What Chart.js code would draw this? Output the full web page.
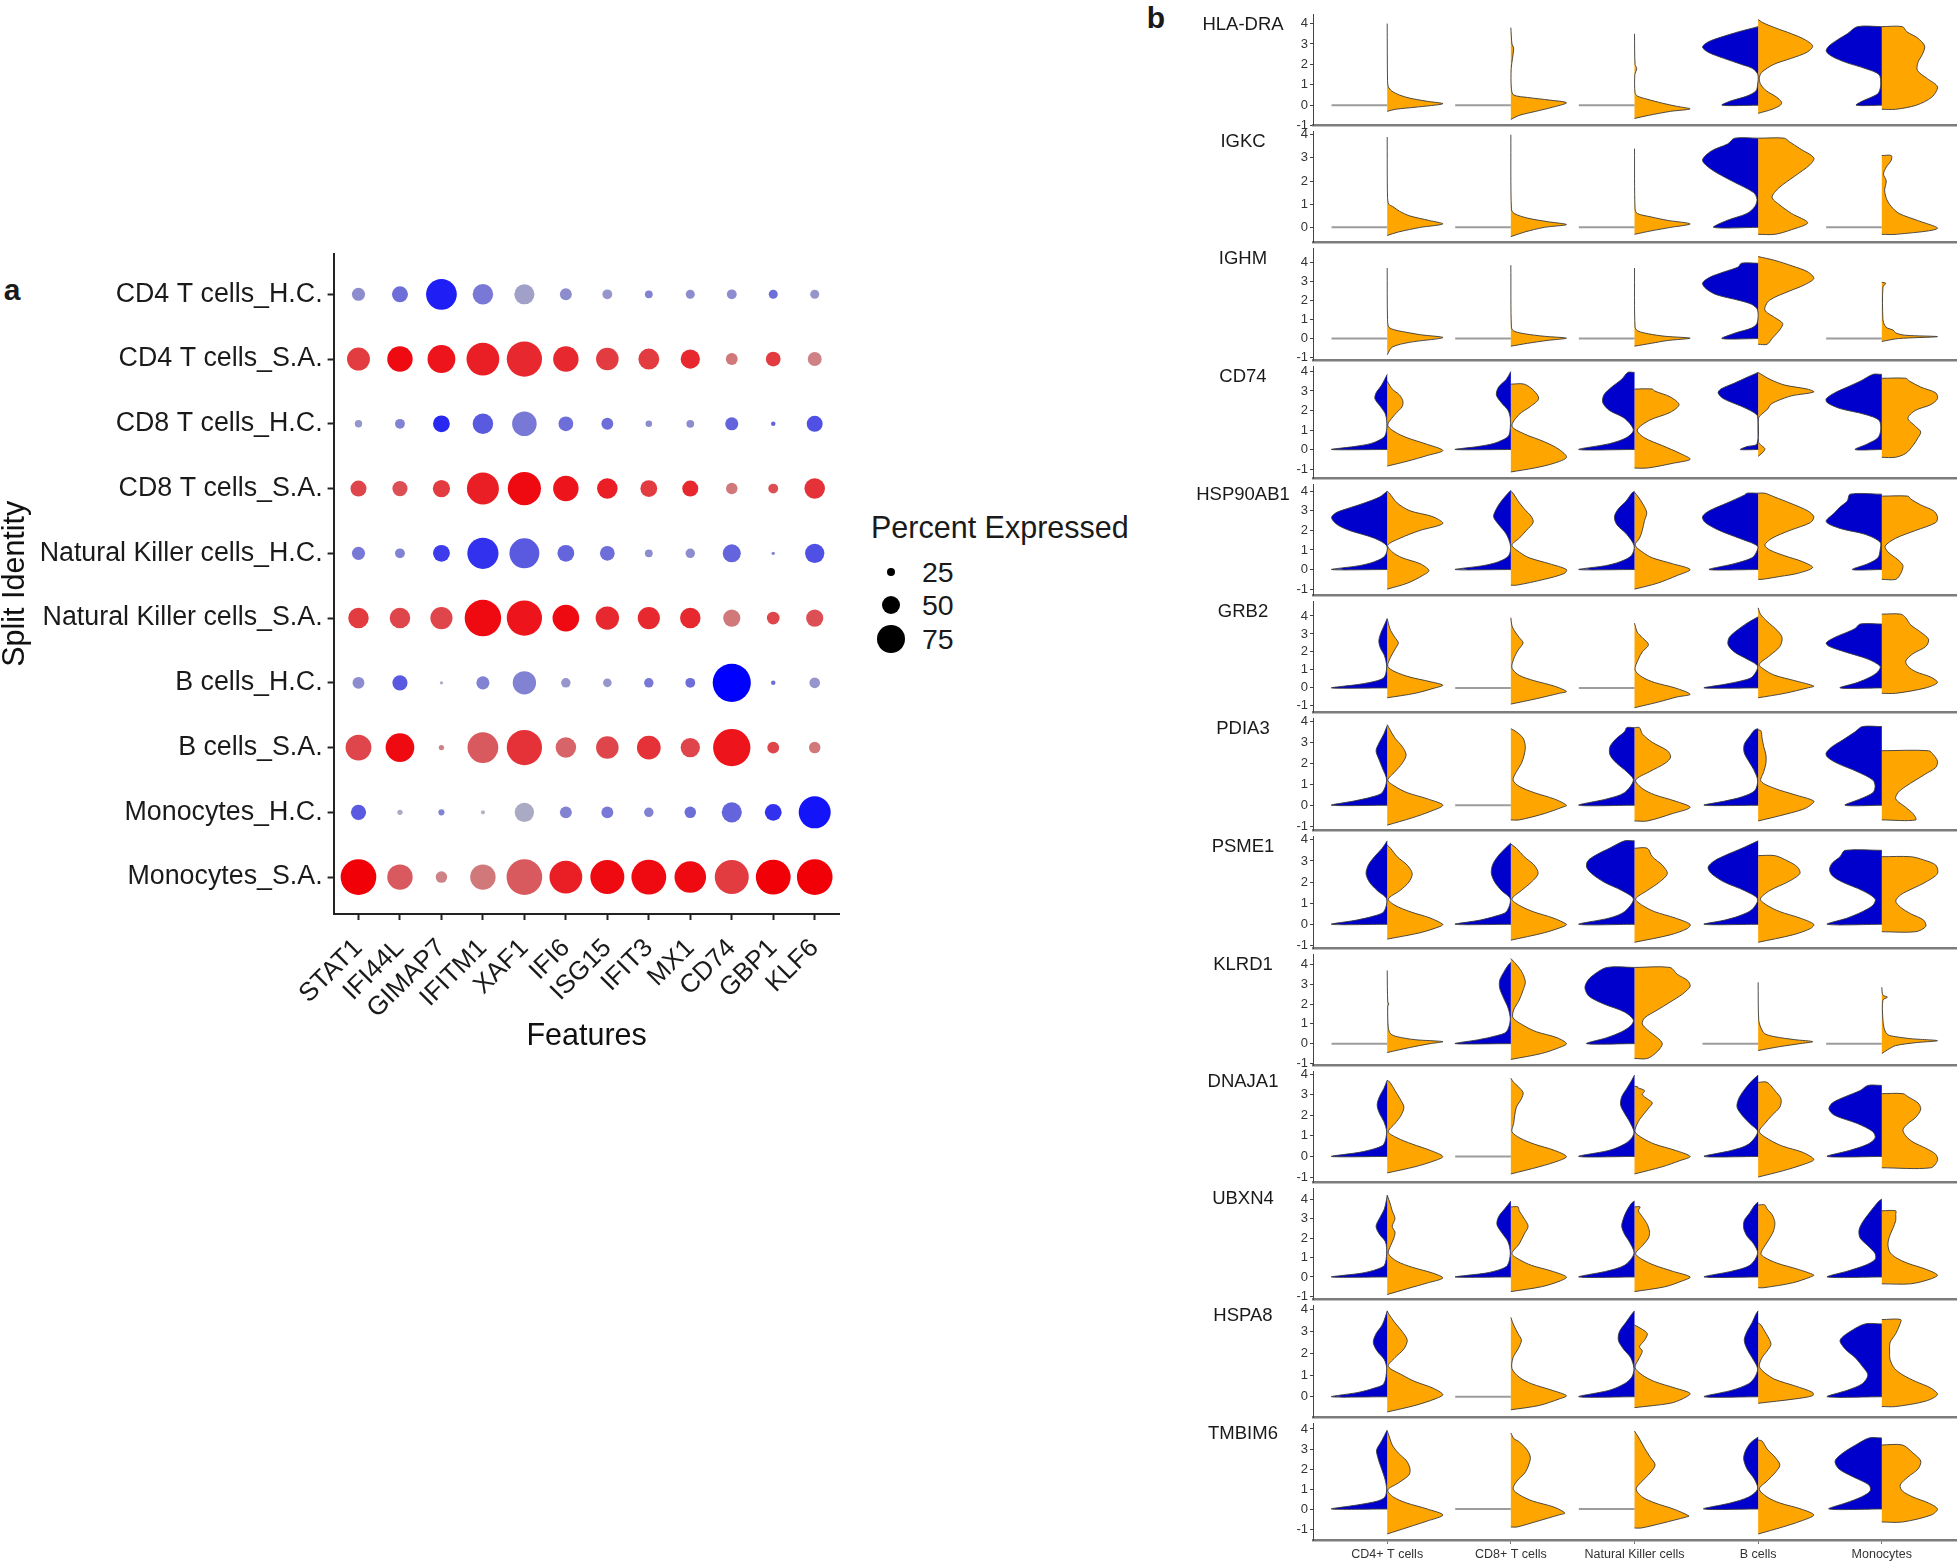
<!DOCTYPE html>
<html><head><meta charset="utf-8">
<script src="https://cdn.jsdelivr.net/npm/chart.js@4.4.1/dist/chart.umd.min.js"></script>
<style>
html,body{margin:0;padding:0;background:#fff;}
#fig{position:relative;width:1959px;height:1566px;overflow:hidden;font-family:"Liberation Sans",Arial,sans-serif;color:#1a1a1a;background:#fff;}
canvas{position:absolute;}
.t{position:absolute;white-space:nowrap;line-height:1;}
.gene{position:absolute;font-size:18.5px;transform:translate(-50%,-50%);white-space:nowrap;color:#1a1a1a;line-height:1;}
.dot{position:absolute;background:#000;border-radius:50%;}
</style></head><body><div id="fig"></div>
<script>
// ---------------- Panel a data ----------------
const features = ['STAT1','IFI44L','GIMAP7','IFITM1','XAF1','IFI6','ISG15','IFIT3','MX1','CD74','GBP1','KLF6'];
const identities = ['CD4 T cells_H.C.','CD4 T cells_S.A.','CD8 T cells_H.C.','CD8 T cells_S.A.',
  'Natural Killer cells_H.C.','Natural Killer cells_S.A.','B cells_H.C.','B cells_S.A.','Monocytes_H.C.','Monocytes_S.A.'];
const pctExpressed = [
  [38,45,81,56,55,35,30,25,28,30,28,28],
  [62,68,74,86,92,68,61,57,53,35,42,40],
  [24,30,47,56,66,42,35,22,25,38,17,45],
  [45,43,48,84,87,68,56,47,45,34,30,56],
  [38,30,47,82,79,47,42,25,29,50,14,53],
  [56,56,60,95,92,71,63,60,56,48,37,48],
  [35,43,14,38,63,29,27,29,30,99,17,32],
  [69,76,19,81,92,56,61,64,53,97,35,34],
  [43,19,21,16,53,35,35,29,34,55,47,84],
  [93,68,34,68,93,86,89,91,83,89,91,93]
];
// scaled average expression, as colour level 1..20 (grey -> split colour)
const expLevel = [
  [6,9,17,8,4,6,5,7,6,6,9,5],
  [14,19,18,17,16,16,14,14,16,8,14,7],
  [5,7,16,11,8,9,9,6,6,10,10,12],
  [13,12,14,17,19,18,17,14,16,8,12,15],
  [8,7,14,15,11,10,9,6,6,10,7,12],
  [14,13,13,19,18,19,16,16,16,8,13,12],
  [6,11,3,7,7,5,5,8,9,20,9,5],
  [13,19,7,11,15,10,13,15,13,18,13,8],
  [11,3,7,2,3,7,8,7,9,10,15,18],
  [20,11,7,8,11,17,19,19,19,14,20,20]
];
const legendPct = [25,50,75];

// ---------------- Panel b data ----------------
const cellTypes = ['CD4+ T cells','CD8+ T cells','Natural Killer cells','B cells','Monocytes'];
const genes = ['HLA-DRA','IGKC','IGHM','CD74','HSP90AB1','GRB2','PDIA3','PSME1','KLRD1','DNAJA1','UBXN4','HSPA8','TMBIM6'];
const geneYMin = [-0.98,-0.64,-1.135,-1.47,-1.31,-1.35,-1.19,-1.13,-1.09,-1.25,-1.14,-0.94,-1.55];
const geneYMax = [4.47,4.16,4.75,4.28,4.37,4.83,4.16,4.18,4.53,4.15,4.57,4.22,4.3];
// each cell: [H.C. half (blue), S.A. half (orange)]; half = [[expression, relative width], ...]; null = all zero
const vHLA_DRA = [
 [null,[[-0.3,0],[-0.2,0.15],[-0.1,0.5],[0.07,1],[0.2,0.7],[0.35,0.4],[0.5,0.22],[0.7,0.08],[0.9,0.02],[1.2,0.006],[4.0,0]]],
 [null,[[-0.7,0],[-0.5,0.15],[-0.3,0.45],[-0.1,0.75],[0.12,1],[0.25,0.7],[0.38,0.3],[0.5,0.05],[0.8,0.01],[1.8,0.006],[2.3,0.03],[2.8,0.05],[3.0,0.02],[3.8,0]]],
 [null,[[-0.65,0],[-0.5,0.25],[-0.3,0.65],[-0.18,1],[-0.05,0.75],[0.1,0.5],[0.3,0.22],[0.45,0.05],[0.6,0.01],[1.5,0.006],[1.8,0.04],[2.0,0.01],[3.5,0]]],
 [[[0,0.65],[0.2,0.5],[0.45,0.2],[0.7,0.04],[1.0,0.01],[1.5,0.005],[1.8,0.1],[2.0,0.3],[2.3,0.62],[2.6,0.9],[2.85,1],[3.1,0.9],[3.35,0.65],[3.6,0.35],[3.85,0]],
  [[-0.4,0],[-0.2,0.25],[0,0.4],[0.15,0.42],[0.4,0.33],[0.7,0.15],[1.0,0.05],[1.3,0.02],[1.6,0.06],[2.0,0.28],[2.3,0.6],[2.6,0.88],[2.9,0.98],[3.2,0.85],[3.5,0.6],[3.8,0.3],[4.05,0.08],[4.2,0]]],
 [[[0,0.46],[0.2,0.35],[0.4,0.18],[0.6,0.06],[1.0,0.02],[1.5,0.05],[1.8,0.3],[2.1,0.65],[2.4,0.9],[2.65,1],[2.9,0.95],[3.2,0.8],[3.5,0.62],[3.85,0.44]],
  [[-0.2,0.25],[0,0.62],[0.4,0.9],[0.9,1],[1.3,0.82],[1.7,0.64],[2.1,0.65],[2.5,0.73],[2.9,0.77],[3.3,0.64],[3.6,0.45],[3.85,0.37]]]
];
const vIGKC = [
 [null,[[-0.35,0],[-0.2,0.2],[0,0.6],[0.15,1],[0.3,0.75],[0.5,0.4],[0.7,0.22],[0.9,0.1],[1.0,0.03],[1.3,0.006],[3.9,0]]],
 [null,[[-0.4,0],[-0.2,0.25],[0,0.6],[0.12,1],[0.25,0.65],[0.4,0.3],[0.6,0.06],[0.8,0.01],[4.0,0]]],
 [null,[[-0.3,0],[-0.15,0.3],[0,0.65],[0.15,1],[0.3,0.6],[0.45,0.3],[0.6,0.05],[0.8,0.01],[3.4,0]]],
 [[[0,0.8],[0.3,0.56],[0.6,0.2],[0.9,0.06],[1.2,0.02],[1.5,0.08],[2.0,0.47],[2.5,0.84],[2.9,1],[3.3,0.84],[3.6,0.55],[3.85,0.42]],
  [[-0.3,0.3],[-0.1,0.6],[0.2,0.89],[0.6,0.6],[1.0,0.37],[1.3,0.25],[1.7,0.37],[2.2,0.65],[2.7,0.93],[3.0,1],[3.4,0.75],[3.7,0.56],[3.85,0.47]]],
 [null,[[-0.3,0.26],[-0.05,1],[0.3,0.64],[0.6,0.31],[0.9,0.17],[1.2,0.09],[1.6,0.05],[2.0,0.08],[2.3,0.03],[2.6,0.08],[2.9,0.17],[3.1,0.17]]]
];
const vIGHM = [
 [null,[[-0.85,0],[-0.45,0.09],[-0.2,0.4],[0.05,1],[0.2,0.6],[0.3,0.4],[0.45,0.14],[0.6,0.03],[1.0,0.006],[3.7,0]]],
 [null,[[-0.4,0],[-0.25,0.3],[-0.1,0.65],[0.02,1],[0.12,0.6],[0.25,0.25],[0.4,0.05],[0.6,0.01],[3.85,0]]],
 [null,[[-0.4,0],[-0.25,0.3],[-0.1,0.6],[0.02,1],[0.12,0.55],[0.25,0.25],[0.4,0.06],[0.6,0.01],[3.7,0]]],
 [[[0,0.65],[0.3,0.4],[0.55,0.12],[0.8,0.02],[1.5,0.01],[1.8,0.12],[2.0,0.34],[2.3,0.75],[2.6,0.93],[2.9,1],[3.2,0.88],[3.5,0.61],[3.75,0.36],[3.95,0.3]],
  [[-0.3,0.16],[0,0.25],[0.5,0.4],[0.8,0.44],[1.1,0.3],[1.5,0.12],[2.0,0.2],[2.5,0.57],[2.8,0.82],[3.15,1],[3.5,0.89],[3.8,0.62],[4.1,0.3],[4.3,0]]],
 [null,[[-0.15,0],[0,0.3],[0.1,1],[0.18,0.4],[0.3,0.25],[0.45,0.2],[0.55,0.1],[0.7,0.05],[1.0,0.02],[2.7,0.02],[2.9,0.07],[2.95,0]]]
];
const vCD74 = [
 [[[0,1],[0.15,0.6],[0.3,0.3],[0.5,0.13],[0.7,0.04],[1.2,0.005],[1.8,0.03],[2.2,0.12],[2.6,0.22],[2.9,0.2],[3.3,0.1],[3.85,0]],
  [[-0.85,0],[-0.6,0.36],[-0.3,0.73],[-0.05,1],[0.3,0.68],[0.6,0.36],[0.9,0.14],[1.25,0.01],[1.8,0.14],[2.2,0.27],[2.5,0.28],[2.8,0.22],[3.1,0.09],[3.5,0]]],
 [[[0,1],[0.15,0.6],[0.3,0.32],[0.5,0.14],[0.7,0.04],[1.1,0.01],[1.6,0.01],[2.0,0.05],[2.4,0.17],[2.8,0.26],[3.2,0.22],[3.6,0.08],[4.0,0]],
  [[-1.15,0],[-0.95,0.42],[-0.7,0.78],[-0.4,1],[0,0.87],[0.4,0.6],[0.8,0.24],[1.2,0.02],[1.8,0.15],[2.2,0.35],[2.6,0.5],[3.0,0.42],[3.35,0.24]]],
 [[[0,1],[0.3,0.45],[0.6,0.15],[1.0,0.02],[1.6,0.18],[2.0,0.45],[2.4,0.57],[2.8,0.55],[3.2,0.41],[3.6,0.23],[3.95,0.12]],
  [[-0.95,0.23],[-0.7,0.7],[-0.5,1],[-0.2,0.82],[0.2,0.5],[0.6,0.18],[1.0,0.05],[1.5,0.27],[1.9,0.64],[2.3,0.8],[2.7,0.64],[3.0,0.36],[3.1,0.32]]],
 [[[0,0.32],[0.15,0.2],[0.3,0.02],[1.7,0.01],[1.9,0.08],[2.2,0.29],[2.6,0.62],[2.9,0.72],[3.1,0.67],[3.4,0.43],[3.7,0.2],[3.95,0]],
  [[-0.35,0],[-0.1,0.1],[0.05,0.12],[0.25,0.04],[0.4,0.005],[1.6,0.005],[1.8,0.06],[2.1,0.18],[2.3,0.22],[2.5,0.35],[2.75,0.6],[2.95,1],[3.1,0.88],[3.3,0.48],[3.6,0.21],[3.95,0]]],
 [[[0,0.48],[0.3,0.25],[0.6,0.07],[1.0,0.02],[1.5,0.05],[1.8,0.3],[2.1,0.75],[2.4,0.98],[2.6,1],[2.9,0.85],[3.2,0.62],[3.5,0.39],[3.85,0.16]],
  [[-0.4,0.24],[-0.2,0.43],[0.2,0.56],[0.6,0.65],[0.9,0.7],[1.2,0.6],[1.6,0.47],[2.0,0.6],[2.3,0.88],[2.6,1],[2.9,0.97],[3.2,0.7],[3.5,0.5],[3.65,0.43]]]
];
const vHSP90AB1 = [
 [[[0,1],[0.2,0.5],[0.4,0.23],[0.7,0.04],[1.2,0.005],[1.6,0.23],[2.0,0.68],[2.3,0.9],[2.65,1],[2.9,0.92],[3.1,0.73],[3.4,0.41],[3.7,0.14],[4.0,0]],
  [[-1.0,0],[-0.7,0.36],[-0.3,0.64],[-0.05,0.75],[0.3,0.59],[0.6,0.27],[0.9,0.09],[1.25,0.01],[1.6,0.23],[2.0,0.59],[2.35,1],[2.7,0.82],[3.0,0.41],[3.4,0.18],[3.9,0.04],[4.0,0]]],
 [[[0,1],[0.2,0.5],[0.4,0.22],[0.7,0.04],[1.2,0.005],[1.8,0.08],[2.3,0.22],[2.7,0.31],[3.1,0.26],[3.5,0.17],[3.9,0.05],[4.05,0]],
  [[-0.8,0.1],[-0.5,0.6],[-0.2,0.96],[0,1],[0.3,0.69],[0.6,0.33],[0.9,0.15],[1.25,0.02],[1.6,0.15],[2.0,0.28],[2.4,0.4],[2.7,0.37],[3.1,0.24],[3.5,0.13],[3.9,0.04],[4.0,0]]],
 [[[0,1],[0.2,0.52],[0.4,0.26],[0.7,0.06],[1.2,0.005],[1.8,0.14],[2.3,0.32],[2.7,0.36],[3.1,0.29],[3.5,0.15],[3.9,0.05],[4.0,0]],
  [[-1.0,0],[-0.7,0.41],[-0.3,0.77],[0,1],[0.3,0.68],[0.6,0.32],[0.9,0.14],[1.25,0.01],[1.6,0.09],[2.0,0.14],[2.5,0.18],[2.9,0.22],[3.3,0.16],[3.7,0.07],[3.95,0]]],
 [[[0,0.88],[0.3,0.43],[0.6,0.11],[0.9,0.03],[1.2,0.01],[1.6,0.34],[2.0,0.7],[2.4,0.95],[2.7,1],[3.0,0.88],[3.4,0.56],[3.8,0.25],[3.9,0.2]],
  [[-0.5,0.07],[-0.35,0.4],[-0.2,0.7],[0.1,0.98],[0.4,0.8],[0.7,0.48],[1.0,0.21],[1.25,0.12],[1.6,0.25],[2.0,0.57],[2.4,0.94],[2.7,1],[3.0,0.89],[3.4,0.57],[3.7,0.3],[3.9,0.12]]],
 [[[0,0.53],[0.3,0.25],[0.6,0.07],[1.0,0.03],[1.4,0.03],[1.8,0.3],[2.1,0.75],[2.45,1],[2.9,0.85],[3.2,0.75],[3.5,0.62],[3.85,0.57]],
  [[-0.5,0.25],[-0.2,0.34],[0.2,0.38],[0.5,0.29],[0.9,0.11],[1.2,0.06],[1.6,0.25],[2.0,0.61],[2.4,0.97],[2.7,1],[3.0,0.93],[3.3,0.7],[3.6,0.52],[3.75,0.47]]]
];
const vGRB2 = [
 [[[0,1],[0.2,0.5],[0.4,0.18],[0.6,0.05],[1.2,0.01],[1.8,0.05],[2.2,0.12],[2.6,0.15],[3.0,0.12],[3.5,0.05],[3.85,0]],
  [[-0.55,0],[-0.3,0.5],[0,0.86],[0.15,1],[0.35,0.77],[0.6,0.41],[0.9,0.14],[1.2,0.01],[1.7,0.06],[2.2,0.15],[2.5,0.2],[2.8,0.14],[3.2,0.06],[3.6,0.02],[3.85,0]]],
 [null,[[-0.9,0],[-0.6,0.46],[-0.3,0.87],[-0.2,1],[0.1,0.78],[0.4,0.42],[0.7,0.15],[1.1,0.02],[1.6,0.05],[2.1,0.13],[2.5,0.22],[2.8,0.15],[3.2,0.06],[3.45,0.02],[3.9,0]]],
 [null,[[-1.1,0],[-0.8,0.41],[-0.5,0.77],[-0.35,1],[0,0.73],[0.3,0.36],[0.6,0.14],[1.0,0.01],[1.6,0.07],[2.0,0.14],[2.4,0.25],[2.8,0.14],[3.1,0.05],[3.6,0]]],
 [[[0,0.97],[0.2,0.6],[0.4,0.29],[0.6,0.11],[1.2,0.01],[1.6,0.2],[2.0,0.43],[2.4,0.54],[2.8,0.52],[3.2,0.38],[3.6,0.2],[3.95,0]],
  [[-0.55,0],[-0.3,0.48],[0,0.89],[0.1,1],[0.4,0.66],[0.7,0.3],[1.0,0.12],[1.3,0.02],[1.8,0.21],[2.3,0.39],[2.8,0.43],[3.2,0.34],[3.7,0.16],[4.1,0.04],[4.45,0]]],
 [[[0,0.75],[0.3,0.44],[0.6,0.21],[0.9,0.07],[1.2,0.03],[1.6,0.25],[2.0,0.66],[2.3,0.94],[2.5,1],[2.8,0.85],[3.1,0.62],[3.3,0.48],[3.55,0.39]],
  [[-0.3,0.25],[0,0.79],[0.3,1],[0.6,0.88],[0.9,0.61],[1.2,0.47],[1.5,0.43],[1.9,0.56],[2.3,0.79],[2.7,0.84],[3.1,0.7],[3.5,0.52],[3.9,0.43],[4.1,0.34]]]
];
const vPDIA3 = [
 [[[0,1],[0.2,0.6],[0.4,0.27],[0.6,0.09],[1.2,0.01],[1.8,0.09],[2.2,0.15],[2.6,0.2],[3.0,0.14],[3.4,0.06],[3.8,0]],
  [[-0.95,0],[-0.6,0.45],[-0.3,0.77],[0,1],[0.3,0.73],[0.6,0.36],[0.9,0.14],[1.2,0.01],[1.6,0.14],[2.0,0.27],[2.4,0.34],[2.8,0.27],[3.2,0.14],[3.6,0.05],[3.85,0]]],
 [null,[[-0.7,0.15],[-0.4,0.6],[-0.1,0.92],[0,1],[0.3,0.78],[0.6,0.42],[0.9,0.15],[1.2,0.04],[1.6,0.1],[2.0,0.19],[2.4,0.24],[2.8,0.26],[3.2,0.22],[3.5,0.1],[3.65,0]]],
 [[[0,1],[0.3,0.5],[0.6,0.18],[1.2,0.02],[1.6,0.14],[2.0,0.32],[2.4,0.44],[2.8,0.44],[3.2,0.32],[3.5,0.18],[3.7,0.14]],
  [[-0.75,0.23],[-0.4,0.68],[-0.1,1],[0.2,0.73],[0.5,0.36],[0.8,0.14],[1.2,0.02],[1.6,0.27],[2.0,0.55],[2.3,0.65],[2.6,0.59],[3.0,0.32],[3.4,0.14],[3.7,0.09]]],
 [[[0,0.97],[0.2,0.6],[0.4,0.29],[0.7,0.06],[1.2,0.01],[1.7,0.08],[2.1,0.17],[2.5,0.25],[2.9,0.25],[3.3,0.15],[3.6,0.06],[3.65,0]],
  [[-0.75,0],[-0.5,0.39],[-0.2,0.8],[0,0.94],[0.2,1],[0.5,0.66],[0.8,0.3],[1.15,0.05],[1.6,0.1],[2.0,0.14],[2.4,0.14],[2.8,0.1],[3.2,0.07],[3.55,0.05],[3.6,0]]],
 [[[0,0.66],[0.3,0.39],[0.6,0.16],[0.9,0.12],[1.2,0.16],[1.6,0.44],[2.0,0.8],[2.3,0.98],[2.5,1],[2.8,0.89],[3.1,0.71],[3.5,0.48],[3.75,0.35]],
  [[-0.7,0.61],[-0.4,0.56],[-0.1,0.43],[0.3,0.25],[0.6,0.29],[0.9,0.43],[1.2,0.61],[1.5,0.79],[1.8,0.97],[2.1,1],[2.4,0.93],[2.6,0.84]]]
];
const vPSME1 = [
 [[[0,1],[0.2,0.55],[0.4,0.23],[0.6,0.06],[1.2,0.01],[1.6,0.18],[2.0,0.32],[2.4,0.38],[2.8,0.34],[3.2,0.23],[3.6,0.09],[3.95,0]],
  [[-0.7,0],[-0.4,0.59],[-0.1,0.95],[0,1],[0.3,0.77],[0.6,0.41],[0.9,0.14],[1.2,0.02],[1.6,0.23],[2.0,0.39],[2.4,0.45],[2.8,0.36],[3.2,0.18],[3.6,0.06],[3.75,0]]],
 [[[0,1],[0.2,0.55],[0.4,0.26],[0.6,0.08],[1.2,0.01],[1.6,0.17],[2.0,0.29],[2.4,0.35],[2.8,0.33],[3.2,0.24],[3.6,0.1],[3.85,0]],
  [[-0.75,0],[-0.4,0.6],[-0.1,0.95],[0,1],[0.3,0.76],[0.6,0.4],[0.9,0.15],[1.2,0.02],[1.6,0.19],[2.0,0.37],[2.4,0.49],[2.8,0.42],[3.2,0.24],[3.6,0.1],[3.8,0]]],
 [[[0,1],[0.3,0.45],[0.6,0.18],[1.2,0.02],[1.6,0.23],[2.0,0.55],[2.4,0.77],[2.7,0.86],[3.0,0.84],[3.3,0.68],[3.6,0.45],[3.95,0.18]],
  [[-0.85,0],[-0.5,0.64],[-0.2,0.95],[0,1],[0.3,0.73],[0.6,0.36],[0.9,0.14],[1.2,0.02],[1.6,0.23],[2.0,0.45],[2.4,0.59],[2.8,0.5],[3.2,0.32],[3.6,0.23]]],
 [[[0,0.97],[0.2,0.6],[0.4,0.34],[0.7,0.11],[1.2,0.01],[1.6,0.25],[2.0,0.61],[2.4,0.84],[2.7,0.9],[3.0,0.79],[3.3,0.56],[3.6,0.29],[3.95,0]],
  [[-0.85,0],[-0.5,0.62],[-0.2,0.94],[0,1],[0.3,0.75],[0.6,0.39],[0.9,0.16],[1.2,0.04],[1.6,0.21],[2.0,0.53],[2.4,0.75],[2.7,0.71],[3.0,0.53],[3.25,0.3]]],
 [[[0,0.98],[0.3,0.62],[0.6,0.35],[0.9,0.16],[1.2,0.12],[1.6,0.35],[2.0,0.71],[2.3,0.89],[2.6,0.94],[2.9,0.89],[3.2,0.75],[3.5,0.66]],
  [[-0.35,0.61],[-0.1,0.79],[0.2,0.75],[0.5,0.52],[0.8,0.34],[1.1,0.25],[1.4,0.34],[1.7,0.56],[2.0,0.79],[2.4,1],[2.8,0.97],[3.05,0.75],[3.2,0.52]]]
];
const vKLRD1 = [
 [null,[[-0.45,0],[-0.2,0.4],[0,0.77],[0.1,1],[0.2,0.5],[0.35,0.18],[0.5,0.06],[0.8,0.02],[1.9,0.01],[2.0,0.03],[2.1,0.01],[3.7,0]]],
 [[[0,1],[0.2,0.58],[0.4,0.26],[0.6,0.08],[1.2,0.01],[1.8,0.05],[2.3,0.13],[2.8,0.2],[3.2,0.2],[3.6,0.13],[4.0,0.04],[4.1,0]],
  [[-0.8,0],[-0.5,0.55],[-0.2,0.87],[0,1],[0.3,0.83],[0.6,0.46],[0.9,0.24],[1.3,0.04],[1.7,0.05],[2.2,0.15],[2.7,0.22],[3.1,0.26],[3.5,0.22],[3.9,0.13],[4.3,0]]],
 [[[0,0.86],[0.3,0.5],[0.6,0.23],[0.9,0.07],[1.2,0.02],[1.6,0.18],[2.0,0.55],[2.4,0.82],[2.8,0.89],[3.1,0.86],[3.4,0.77],[3.85,0.5]],
  [[-0.75,0.23],[-0.4,0.41],[0,0.5],[0.3,0.41],[0.7,0.23],[1.0,0.14],[1.3,0.18],[1.7,0.41],[2.1,0.64],[2.5,0.86],[2.9,1],[3.2,0.95],[3.5,0.77],[3.85,0.64]]],
 [null,[[-0.35,0],[-0.15,0.39],[0,0.75],[0.1,0.98],[0.2,0.66],[0.35,0.3],[0.5,0.12],[0.8,0.05],[1.2,0.01],[3.1,0]]],
 [null,[[-0.5,0],[-0.3,0.11],[-0.1,0.25],[0.05,0.61],[0.15,1],[0.25,0.52],[0.35,0.25],[0.45,0.11],[0.7,0.05],[1.2,0.02],[2.2,0.02],[2.35,0.1],[2.45,0.02],[2.85,0]]]
];
const vDNAJA1 = [
 [[[0,1],[0.2,0.5],[0.4,0.2],[0.6,0.06],[1.2,0.01],[1.7,0.06],[2.1,0.14],[2.5,0.18],[2.9,0.14],[3.3,0.06],[3.7,0]],
  [[-0.8,0],[-0.5,0.5],[-0.2,0.86],[0,1],[0.3,0.77],[0.6,0.45],[0.9,0.18],[1.2,0.02],[1.6,0.14],[2.0,0.25],[2.4,0.3],[2.8,0.23],[3.2,0.14],[3.6,0.05],[3.7,0]]],
 [null,[[-0.85,0],[-0.5,0.51],[-0.2,0.87],[0,1],[0.3,0.78],[0.6,0.42],[0.9,0.16],[1.2,0.02],[1.6,0.05],[2.0,0.07],[2.4,0.1],[2.8,0.19],[3.1,0.22],[3.4,0.13],[3.6,0.05],[3.8,0]]],
 [[[0,1],[0.3,0.45],[0.6,0.18],[0.9,0.05],[1.2,0.01],[1.7,0.09],[2.1,0.18],[2.5,0.25],[2.9,0.23],[3.3,0.14],[3.7,0.05],[3.95,0]],
  [[-0.85,0],[-0.5,0.5],[-0.2,0.82],[0,1],[0.3,0.73],[0.6,0.36],[0.9,0.14],[1.2,0.01],[1.7,0.07],[2.1,0.18],[2.4,0.27],[2.6,0.32],[2.8,0.23],[3.0,0.14],[3.2,0.18],[3.35,0.05],[3.4,0.05]]],
 [[[0,0.97],[0.3,0.47],[0.6,0.17],[1.2,0.01],[1.6,0.15],[2.0,0.29],[2.4,0.38],[2.8,0.35],[3.2,0.26],[3.6,0.14],[3.95,0]],
  [[-1.0,0],[-0.7,0.44],[-0.4,0.8],[-0.15,1],[0.2,0.8],[0.5,0.44],[0.8,0.21],[1.2,0.02],[1.6,0.12],[2.0,0.25],[2.4,0.39],[2.8,0.41],[3.2,0.3],[3.6,0.16]]],
 [[[0,0.98],[0.3,0.57],[0.6,0.25],[0.9,0.12],[1.2,0.16],[1.6,0.44],[2.0,0.85],[2.3,0.95],[2.6,0.89],[2.9,0.66],[3.2,0.39],[3.45,0.25]],
  [[-0.55,0.88],[-0.2,1],[0.1,0.97],[0.4,0.79],[0.7,0.56],[1.0,0.43],[1.3,0.38],[1.6,0.47],[1.9,0.61],[2.3,0.7],[2.6,0.65],[2.9,0.47],[3.05,0.38]]]
];
const vUBXN4 = [
 [[[0,1],[0.2,0.45],[0.4,0.18],[0.6,0.05],[1.2,0.01],[1.8,0.03],[2.2,0.14],[2.6,0.2],[3.0,0.14],[3.5,0.05],[4.0,0.01],[4.2,0]],
  [[-0.9,0],[-0.6,0.36],[-0.3,0.73],[-0.05,1],[0.2,0.82],[0.5,0.45],[0.8,0.18],[1.2,0.02],[1.6,0.06],[2.0,0.12],[2.3,0.14],[2.6,0.09],[3.0,0.14],[3.4,0.09],[3.8,0.05],[4.2,0]]],
 [[[0,1],[0.2,0.45],[0.4,0.18],[0.6,0.06],[1.2,0.01],[1.8,0.05],[2.3,0.17],[2.7,0.25],[3.1,0.22],[3.5,0.11],[3.9,0]],
  [[-0.75,0],[-0.5,0.55],[-0.2,0.89],[0,1],[0.3,0.74],[0.6,0.37],[0.9,0.15],[1.2,0.02],[1.7,0.15],[2.2,0.24],[2.6,0.31],[3.0,0.24],[3.4,0.15],[3.6,0.13]]],
 [[[0,1],[0.3,0.5],[0.6,0.18],[1.2,0.01],[1.8,0.09],[2.2,0.18],[2.6,0.23],[3.0,0.2],[3.4,0.14],[3.8,0.05],[3.9,0]],
  [[-0.75,0],[-0.5,0.55],[-0.2,0.86],[0,1],[0.3,0.68],[0.6,0.36],[0.9,0.14],[1.2,0.02],[1.6,0.14],[2.0,0.25],[2.3,0.27],[2.7,0.23],[3.1,0.14],[3.4,0.07],[3.6,0.1]]],
 [[[0,0.97],[0.3,0.47],[0.6,0.15],[1.2,0.01],[1.7,0.08],[2.1,0.2],[2.5,0.26],[2.9,0.25],[3.3,0.15],[3.7,0.06],[3.85,0]],
  [[-0.55,0.1],[-0.3,0.62],[0,0.94],[0.1,1],[0.4,0.71],[0.7,0.35],[1.0,0.12],[1.2,0.05],[1.6,0.12],[2.0,0.21],[2.4,0.28],[2.8,0.3],[3.2,0.25],[3.5,0.16],[3.7,0.12]]],
 [[[0,0.98],[0.3,0.62],[0.6,0.3],[0.9,0.12],[1.2,0.12],[1.6,0.25],[2.0,0.39],[2.4,0.41],[2.8,0.35],[3.2,0.25],[3.6,0.14],[3.9,0.05],[4.0,0]],
  [[-0.35,0.52],[-0.1,0.88],[0.1,1],[0.4,0.79],[0.7,0.47],[1.0,0.25],[1.3,0.14],[1.7,0.11],[2.1,0.14],[2.5,0.2],[2.9,0.25],[3.2,0.25],[3.4,0.25]]]
];
const vHSPA8 = [
 [[[0,1],[0.2,0.52],[0.4,0.23],[0.6,0.06],[1.3,0.01],[1.7,0.05],[2.1,0.18],[2.5,0.25],[2.9,0.2],[3.3,0.09],[3.7,0.03],[3.95,0]],
  [[-0.7,0],[-0.4,0.5],[-0.1,0.86],[0.1,1],[0.4,0.82],[0.7,0.5],[1.0,0.27],[1.4,0.02],[1.8,0.14],[2.2,0.3],[2.6,0.36],[3.0,0.27],[3.4,0.14],[3.8,0.03],[3.95,0]]],
 [null,[[-0.6,0],[-0.4,0.51],[-0.1,0.87],[0.05,1],[0.3,0.74],[0.6,0.37],[0.9,0.15],[1.3,0.02],[1.8,0.04],[2.2,0.13],[2.6,0.19],[2.9,0.13],[3.3,0.05],[3.65,0]]],
 [[[0,1],[0.3,0.45],[0.6,0.18],[0.9,0.05],[1.3,0.01],[1.8,0.07],[2.2,0.2],[2.6,0.29],[3.0,0.27],[3.4,0.16],[3.8,0.05],[3.95,0]],
  [[-0.5,0],[-0.3,0.64],[-0.1,0.86],[0.15,1],[0.4,0.73],[0.7,0.36],[1.0,0.14],[1.35,0.01],[1.8,0.09],[2.1,0.14],[2.3,0.09],[2.6,0.18],[2.9,0.23],[3.1,0.14],[3.3,0]]],
 [[[0,0.97],[0.3,0.47],[0.6,0.17],[0.9,0.06],[1.3,0.01],[1.8,0.11],[2.2,0.2],[2.6,0.25],[3.0,0.2],[3.4,0.11],[3.8,0.04],[3.95,0]],
  [[-0.3,0],[-0.1,0.66],[0.05,0.98],[0.2,0.98],[0.5,0.66],[0.8,0.3],[1.1,0.12],[1.4,0.02],[1.8,0.07],[2.1,0.16],[2.4,0.23],[2.7,0.19],[3.0,0.12],[3.3,0.05],[3.4,0]]],
 [[[0,0.98],[0.3,0.62],[0.6,0.35],[1.0,0.25],[1.4,0.35],[1.8,0.48],[2.2,0.66],[2.6,0.75],[3.0,0.57],[3.35,0.3]],
  [[-0.45,0.25],[-0.2,0.79],[0.1,1],[0.4,0.88],[0.7,0.61],[1.0,0.38],[1.3,0.23],[1.7,0.15],[2.1,0.14],[2.5,0.15],[2.9,0.25],[3.3,0.32],[3.55,0.34]]]
];
const vTMBIM6 = [
 [[[0,1],[0.2,0.54],[0.4,0.17],[0.6,0.04],[1.0,0.01],[1.5,0.04],[2.0,0.1],[2.5,0.16],[2.95,0.19],[3.4,0.1],[3.95,0]],
  [[-1.25,0],[-0.9,0.39],[-0.6,0.72],[-0.3,1],[0,0.72],[0.3,0.35],[0.6,0.11],[0.95,0.01],[1.3,0.2],[1.7,0.39],[2.0,0.41],[2.4,0.35],[2.8,0.2],[3.2,0.09],[3.6,0.04],[3.9,0]]],
 [null,[[-0.9,0.11],[-0.6,0.49],[-0.3,0.86],[-0.2,0.97],[0.1,0.77],[0.4,0.39],[0.7,0.16],[1.0,0.04],[1.4,0.11],[1.8,0.25],[2.2,0.32],[2.6,0.35],[3.0,0.28],[3.4,0.13],[3.5,0.06],[3.8,0]]],
 [null,[[-0.95,0.12],[-0.7,0.51],[-0.4,0.93],[-0.35,0.98],[0,0.7],[0.3,0.37],[0.6,0.14],[1.0,0.03],[1.4,0.14],[1.8,0.28],[2.2,0.37],[2.6,0.28],[3.0,0.19],[3.5,0.09],[3.9,0]]],
 [[[0,0.98],[0.3,0.5],[0.6,0.17],[1.0,0.01],[1.5,0.07],[2.0,0.2],[2.5,0.26],[2.9,0.23],[3.3,0.14],[3.6,0]],
  [[-1.25,0],[-0.9,0.44],[-0.6,0.77],[-0.3,1],[0,0.77],[0.3,0.39],[0.6,0.16],[1.0,0.02],[1.4,0.16],[1.8,0.3],[2.2,0.39],[2.6,0.3],[3.0,0.16],[3.4,0.07],[3.45,0]]],
 [[[0,0.95],[0.3,0.65],[0.6,0.37],[0.9,0.21],[1.2,0.23],[1.6,0.51],[2.0,0.77],[2.4,0.84],[2.8,0.7],[3.2,0.47],[3.55,0.23]],
  [[-0.65,0.37],[-0.3,0.89],[0,1],[0.3,0.84],[0.6,0.56],[0.9,0.37],[1.2,0.33],[1.6,0.47],[2.0,0.65],[2.4,0.7],[2.8,0.56],[3.2,0.37]]]
];
const violinData = [vHLA_DRA,vIGKC,vIGHM,vCD74,vHSP90AB1,vGRB2,vPDIA3,vPSME1,vKLRD1,vDNAJA1,vUBXN4,vHSPA8,vTMBIM6];

// ---------------- layout / style ----------------
const FONT = '"Liberation Sans", Arial, sans-serif';
const fig = document.getElementById('fig');
function addText(txt, left, top, size, opts={}) {
  const d = document.createElement('div');
  d.className = opts.cls || 't';
  d.textContent = txt;
  d.style.left = left + 'px'; d.style.top = top + 'px';
  d.style.fontSize = size + 'px';
  if (opts.bold) d.style.fontWeight = 'bold';
  if (opts.center) d.style.transform = 'translate(-50%,-50%)';
  if (opts.vcenter) d.style.transform = 'translateY(-50%)';
  fig.appendChild(d);
  return d;
}
function addCanvas(left, top, w, h) {
  const c = document.createElement('canvas');
  c.width = w; c.height = h;
  c.style.left = left + 'px'; c.style.top = top + 'px';
  c.style.width = w + 'px'; c.style.height = h + 'px';
  fig.appendChild(c);
  return c;
}
const radiusOf = p => Math.max(0.6, 0.205 * (p - 6));
function dotColor(level, hc) {
  const t = (level - 1) / 19, g = 190;
  const tgt = hc ? [0, 0, 255] : [242, 0, 8];
  const c = tgt.map(v => Math.round(g + (v - g) * t));
  return `rgb(${c[0]},${c[1]},${c[2]})`;
}

// ---------------- Panel a ----------------
addText('a', 12, 290, 30, {bold: true, center: true});
const dotPts = [], dotCols = [];
identities.forEach((id, r) => features.forEach((f, c) => {
  dotPts.push({x: c, y: r, r: radiusOf(pctExpressed[r][c])});
  dotCols.push(dotColor(expLevel[r][c], id.endsWith('H.C.')));
}));
const dotCanvas = addCanvas(0, 0, 860, 1059);
new Chart(dotCanvas, {
  type: 'bubble',
  data: {datasets: [{data: dotPts, backgroundColor: dotCols, borderWidth: 0, hoverBorderWidth: 0}]},
  options: {
    responsive: false, animation: false, events: [],
    layout: {padding: {top: 253.5, right: 20.4, left: 0, bottom: 0}},
    plugins: {legend: {display: false}, tooltip: {enabled: false}},
    scales: {
      x: {type: 'linear', min: -0.6, max: 11.6,
        afterBuildTicks: s => { s.ticks = features.map((_, i) => ({value: i})); },
        afterFit: s => { s.height = 145; },
        ticks: {callback: v => features[v], minRotation: 45, maxRotation: 45, autoSkip: false,
          font: {size: 26, family: FONT}, color: '#1a1a1a', padding: 13},
        grid: {drawOnChartArea: false, drawTicks: true, tickLength: 6, tickWidth: 2, tickColor: '#222'},
        border: {display: true, color: '#222', width: 2},
        title: {display: true, text: 'Features', font: {size: 30.5, family: FONT}, color: '#111', padding: {top: 0, bottom: 4}}},
      y: {type: 'linear', reverse: true, min: -0.63, max: 9.57,
        afterBuildTicks: s => { s.ticks = identities.map((_, i) => ({value: i})); },
        afterFit: s => { s.width = 333.6; },
        ticks: {callback: v => identities[v], autoSkip: false, font: {size: 26.8, family: FONT}, color: '#1a1a1a', padding: 5},
        grid: {drawOnChartArea: false, drawTicks: true, tickLength: 6, tickWidth: 2, tickColor: '#222'},
        border: {display: true, color: '#222', width: 2},
        title: {display: true, text: 'Split Identity', font: {size: 30.5, family: FONT}, color: '#111', padding: {top: -3, bottom: 0}}}
    }
  }
});
// size legend
addText('Percent Expressed', 871, 527, 30.5, {vcenter: true});
const legY = [572, 605, 639];
legendPct.forEach((p, i) => {
  const r = radiusOf(p);
  const d = document.createElement('div');
  d.className = 'dot';
  d.style.left = (891 - r) + 'px'; d.style.top = (legY[i] - r) + 'px';
  d.style.width = (2 * r) + 'px'; d.style.height = (2 * r) + 'px';
  fig.appendChild(d);
  addText(String(p), 922, legY[i], 28.5, {vcenter: true});
});

// ---------------- Panel b ----------------
addText('b', 1156, 18, 30, {bold: true, center: true});
const rowTops = [14,131,248,366,484,601,718,836,954,1071,1188,1305,1423];
const lastBottom = 1540;
const HALF = 0.45, BLUE = '#0000CD', ORANGE = '#FFA500', EDGE = '#3a3a3a';
const CAN_L = 1258, PLOT_L = 1313, PLOT_R = 1956;

function halfDataset(knots, c, side, color) {
  const pts = [];
  const first = knots[0], last = knots[knots.length - 1];
  if (first[1] > 0) pts.push({x: c, y: first[0]});
  knots.forEach(([y, w]) => pts.push({x: c + side * HALF * w, y}));
  if (last[1] > 0) pts.push({x: c, y: last[0]});
  return {data: pts, fill: 'shape', backgroundColor: color, borderColor: EDGE, borderWidth: 0.9,
    pointRadius: 0, pointHoverRadius: 0, tension: 0.3};
}
function zeroLine(c) {
  return {data: [{x: c - HALF, y: 0}, {x: c, y: 0}], fill: false, borderColor: '#9c9c9c', borderWidth: 2,
    pointRadius: 0, pointHoverRadius: 0, tension: 0};
}

genes.forEach((gene, i) => {
  const last = i === genes.length - 1;
  const top = rowTops[i];
  const bottom = last ? lastBottom : rowTops[i + 1];
  const padT = 10, padB = last ? 0 : 4, xH = last ? 28 : 0;
  const h = (bottom - top) + padT + padB + xH;
  const w = 1959 - CAN_L;
  const cv = addCanvas(CAN_L, top - padT, w, h);
  const ds = [];
  violinData[i].forEach(([blue, orange], c) => {
    ds.push(blue ? halfDataset(blue, c, -1, BLUE) : zeroLine(c));
    ds.push(halfDataset(orange, c, 1, ORANGE));
  });
  const yMin = geneYMin[i], yMax = geneYMax[i];
  new Chart(cv, {
    type: 'line',
    data: {datasets: ds},
    options: {
      responsive: false, animation: false, events: [],
      layout: {padding: {top: padT, bottom: padB, left: 0, right: 1959 - PLOT_R}},
      plugins: {legend: {display: false}, tooltip: {enabled: false}},
      scales: {
        x: {type: 'linear', min: -0.6, max: 4.6,
          afterBuildTicks: s => { s.ticks = cellTypes.map((_, k) => ({value: k})); },
          afterFit: s => { s.height = xH; },
          ticks: {display: last, callback: v => cellTypes[v], maxRotation: 0, autoSkip: false,
            font: {size: 12.5, family: FONT}, color: '#333', padding: 3},
          grid: {drawOnChartArea: false, drawTicks: last, tickLength: 4, tickColor: '#777'},
          border: {display: true, color: '#7c7c7c', width: 2.5}},
        y: {type: 'linear', min: yMin, max: yMax,
          afterBuildTicks: s => { s.ticks = [-1,0,1,2,3,4].filter(v => v >= yMin - 0.03 && v <= yMax + 0.03).map(v => ({value: v})); },
          afterFit: s => { s.width = PLOT_L - CAN_L; },
          ticks: {font: {size: 13, family: FONT}, color: '#333', padding: 2},
          grid: {drawOnChartArea: false, drawTicks: true, tickLength: 3, tickColor: '#444'},
          border: {display: true, color: '#444', width: 1}}
      }
    }
  });
  addText(gene, 1243, top + 9.5, 18.5, {cls: 'gene'});
});
</script></body></html>
